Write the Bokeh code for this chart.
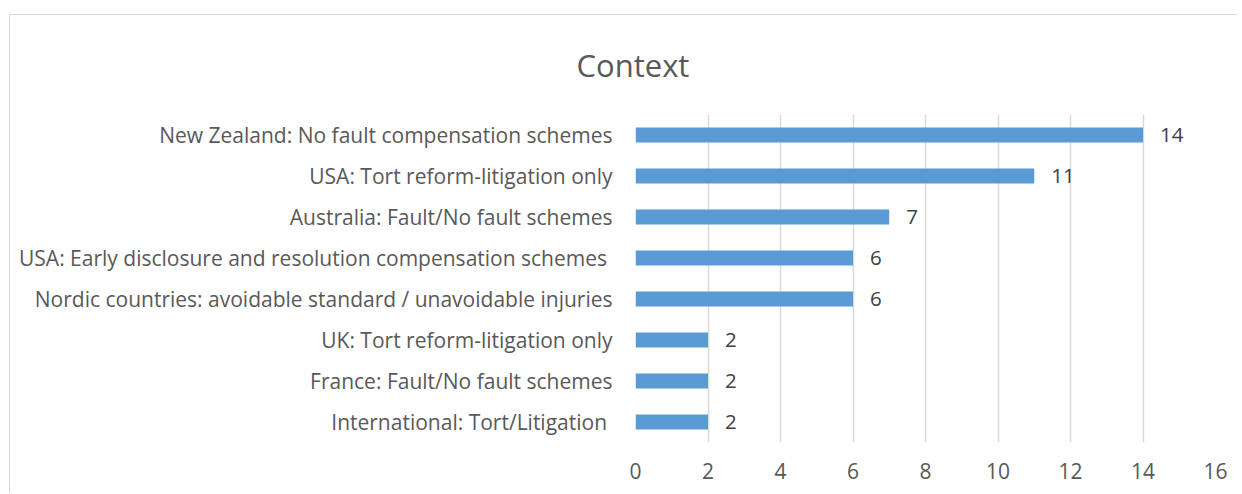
from bokeh.plotting import figure
from bokeh.models import ColumnDataSource, Range1d, FixedTicker
from bokeh.core.properties import value
from bokeh.embed import file_html
from bokeh.resources import INLINE

categories = [
    "International: Tort/Litigation ",
    "France: Fault/No fault schemes",
    "UK: Tort reform-litigation only",
    "Nordic countries: avoidable standard / unavoidable injuries",
    "USA: Early disclosure and resolution compensation schemes ",
    "Australia: Fault/No fault schemes",
    "USA: Tort reform-litigation only",
    "New Zealand: No fault compensation schemes",
]
counts = [2, 2, 2, 6, 6, 7, 11, 14]
x_ticks = [0, 2, 4, 6, 8, 10, 12, 14, 16]
title_text = "Context"

FONT = "Open Sans"
GREY = "#595959"

src = ColumnDataSource(dict(cat=categories, val=counts, lab=[str(v) for v in counts]))

p = figure(
    y_range=categories, x_range=Range1d(0, 16),
    width=1228, height=479,
    output_backend="svg", toolbar_location=None,
    min_border_left=625, min_border_right=23, min_border_top=99, min_border_bottom=52,
)
p.margin = (14, 0, 0, 9)
p.styles = {"border-left": "1px solid #D9D9D9", "border-top": "1px solid #D9D9D9"}
p.background_fill_color = "white"
p.border_fill_color = "white"
p.outline_line_color = None

p.hbar(y="cat", right="val", left=0, height=0.365, source=src,
       fill_color="#5B9BD5", line_color=None)

p.text(x="val", y="cat", text="lab", source=src, x_offset=17,
       text_align="left", text_baseline="middle",
       text_font=value(FONT), text_font_size="20.5px", text_color="#404040")

p.ygrid.grid_line_color = None
p.xgrid.grid_line_color = "#D9D9D9"
p.xgrid.grid_line_width = 1.5
p.xaxis.ticker = FixedTicker(ticks=x_ticks)

for ax in (p.xaxis, p.yaxis):
    ax.axis_line_color = None
    ax.major_tick_line_color = None
    ax.minor_tick_line_color = None
    ax.major_tick_out = 0
    ax.major_tick_in = 0
    ax.major_label_text_font = FONT
    ax.major_label_text_font_size = "21px"
    ax.major_label_text_color = GREY
p.yaxis.major_label_standoff = 23
p.xaxis.major_label_standoff = 20

p.title.text = title_text
p.title.align = "left"
p.title.offset = -59
p.title.vertical_align = "top"
p.title.text_font = FONT
p.title.text_font_style = "normal"
p.title.text_font_size = "31px"
p.title.text_color = GREY
p.title.standoff = 54

open("out.html", "w").write(file_html(p, INLINE))
